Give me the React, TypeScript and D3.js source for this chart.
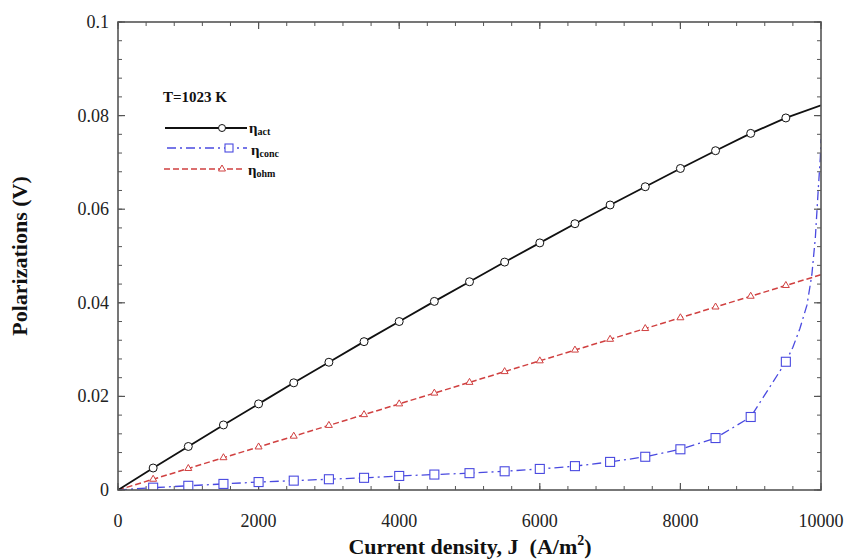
import React from "react";
import * as d3 from "d3";

const jMarkers = [500, 1000, 1500, 2000, 2500, 3000, 3500, 4000, 4500, 5000, 5500, 6000, 6500, 7000, 7500, 8000, 8500, 9000, 9500];

const actJ = [0, 500, 1000, 1500, 2000, 2500, 3000, 3500, 4000, 4500, 5000, 5500, 6000, 6500, 7000, 7500, 8000, 8500, 9000, 9500, 10000];
const actV = [0, 0.0047, 0.0093, 0.0139, 0.0184, 0.0229, 0.0273, 0.0317, 0.036, 0.0403, 0.0445, 0.0487, 0.0528, 0.0569, 0.0609, 0.0648, 0.0687, 0.0725, 0.0762, 0.0795, 0.0822];

const ohmJ = [0, 500, 1000, 1500, 2000, 2500, 3000, 3500, 4000, 4500, 5000, 5500, 6000, 6500, 7000, 7500, 8000, 8500, 9000, 9500, 10000];
const ohmV = [0, 0.0023, 0.0046, 0.0069, 0.0092, 0.0115, 0.0138, 0.0161, 0.0184, 0.0207, 0.023, 0.0253, 0.0276, 0.0299, 0.0322, 0.0345, 0.0368, 0.0391, 0.0414, 0.0437, 0.046];

const concJ = [0, 500, 1000, 1500, 2000, 2500, 3000, 3500, 4000, 4500, 5000, 5500, 6000, 6500, 7000, 7500, 8000, 8500, 9000, 9500, 9600, 9700, 9800, 9870, 9920, 9960, 9990, 10000];
const concV = [0, 0.0005, 0.0009, 0.0013, 0.0017, 0.002, 0.0023, 0.0026, 0.003, 0.0033, 0.0036, 0.004, 0.0045, 0.0051, 0.006, 0.0071, 0.0087, 0.0111, 0.0156, 0.0274, 0.0305, 0.0345, 0.0395, 0.046, 0.054, 0.064, 0.071, 0.075];

const xTicks = [0, 2000, 4000, 6000, 8000, 10000];
const xTickLabels = ["0", "2000", "4000", "6000", "8000", "10000"];
const yTicks = [0, 0.02, 0.04, 0.06, 0.08, 0.1];
const yTickLabels = ["0", "0.02", "0.04", "0.06", "0.08", "0.1"];

const W = 851, H = 560;
const L = 118, R = 821, T = 22, B = 490;

export default function App() {
  const x = d3.scaleLinear().domain([0, 10000]).range([L, R]);
  const y = d3.scaleLinear().domain([0, 0.1]).range([B, T]);
  const mk = (js: number[], vs: number[]) =>
    d3.line<number>().x((_, i) => x(js[i])).y((_, i) => y(vs[i]))(vs) || "";

  const xMinor = d3.range(0, 10001, 400);
  const yMinor = d3.range(0, 0.1001, 0.004);
  const serif = "'Liberation Serif', 'Times New Roman', serif";
  const frame = "#555";

  const idx = (js: number[], v: number) => js.indexOf(v);
  const tri = (cx: number, cy: number, s: number) =>
    `M${cx},${cy - s} L${cx + s * 0.87},${cy + s * 0.5} L${cx - s * 0.87},${cy + s * 0.5} Z`;

  const black = "#111";
  const blue = "#4a4ae0";
  const red = "#d04040";

  return (
    <svg width={W} height={H} style={{ position: "absolute", left: 0, top: 0, background: "#fff" }} fontFamily={serif}>
      <rect x={0} y={0} width={W} height={H} fill="#fff" />
      <defs>
        <clipPath id="plot">
          <rect x={L} y={T} width={R - L} height={B - T} />
        </clipPath>
      </defs>
      {xMinor.map((v) => (
        <g key={"xm" + v} stroke={frame} strokeWidth={1}>
          <line x1={x(v)} x2={x(v)} y1={B} y2={B - 4} />
          <line x1={x(v)} x2={x(v)} y1={T} y2={T + 4} />
        </g>
      ))}
      {yMinor.map((v) => (
        <g key={"ym" + v} stroke={frame} strokeWidth={1}>
          <line x1={L} x2={L + 4} y1={y(v)} y2={y(v)} />
          <line x1={R} x2={R - 4} y1={y(v)} y2={y(v)} />
        </g>
      ))}
      {xTicks.map((v) => (
        <g key={"xt" + v} stroke={frame} strokeWidth={1.2}>
          <line x1={x(v)} x2={x(v)} y1={B} y2={B - 7} />
          <line x1={x(v)} x2={x(v)} y1={T} y2={T + 7} />
        </g>
      ))}
      {yTicks.map((v) => (
        <g key={"yt" + v} stroke={frame} strokeWidth={1.2}>
          <line x1={L} x2={L + 7} y1={y(v)} y2={y(v)} />
          <line x1={R} x2={R - 7} y1={y(v)} y2={y(v)} />
        </g>
      ))}

      <g clipPath="url(#plot)">
        <path d={mk(ohmJ, ohmV)} fill="none" stroke={red} strokeWidth={1.5} strokeDasharray="6,3" />
        <path d={mk(concJ, concV)} fill="none" stroke={blue} strokeWidth={1.3} strokeDasharray="9,4,2,4" />
        <path d={mk(actJ, actV)} fill="none" stroke={black} strokeWidth={1.8} />
        {jMarkers.map((j) => (
          <circle key={"a" + j} cx={x(j)} cy={y(actV[idx(actJ, j)])} r={4} fill="#fff" stroke={black} strokeWidth={1} />
        ))}
        {jMarkers.map((j) => (
          <path key={"o" + j} d={tri(x(j), y(ohmV[idx(ohmJ, j)]), 4)} fill="#fff" stroke={red} strokeWidth={1} />
        ))}
        {jMarkers.map((j) => (
          <rect key={"c" + j} x={x(j) - 4.5} y={y(concV[idx(concJ, j)]) - 4.5} width={9} height={9} fill="#fff" stroke={blue} strokeWidth={1.1} />
        ))}
      </g>

      <rect x={L} y={T} width={R - L} height={B - T} fill="none" stroke={frame} strokeWidth={1.6} />

      {xTicks.map((v, i) => (
        <text key={"xl" + v} x={x(v)} y={527} textAnchor="middle" fontSize={18} fill="#222">
          {xTickLabels[i]}
        </text>
      ))}
      {yTicks.map((v, i) => (
        <text key={"yl" + v} x={109} y={y(v) + 6} textAnchor="end" fontSize={18} fill="#222">
          {yTickLabels[i]}
        </text>
      ))}

      <text x={470} y={554} textAnchor="middle" fontSize={22} fontWeight="bold" fill="#111">
        {"Current density, J\u00a0\u00a0(A/m"}<tspan dy={-9} fontSize={14}>2</tspan><tspan dy={9}>)</tspan>
      </text>
      <text transform={`translate(27,${256}) rotate(-90)`} textAnchor="middle" fontSize={22} fontWeight="bold" fill="#111">
        Polarizations (V)
      </text>

      <text x={163} y={102} fontSize={15} fontWeight="bold" fill="#111">T=1023 K</text>
      <line x1={165} x2={247} y1={128} y2={128} stroke={black} strokeWidth={1.8} />
      <circle cx={222} cy={128} r={3.5} fill="#fff" stroke={black} strokeWidth={1} />
      <text x={249} y={133} fontSize={15} fontWeight="bold" fill="#111">η<tspan fontSize={10} dy={2}>act</tspan></text>

      <line x1={167} x2={247} y1={148} y2={148} stroke={blue} strokeWidth={1.3} strokeDasharray="9,4,2,4" />
      <rect x={225} y={144} width={8} height={8} fill="#fff" stroke={blue} strokeWidth={1.1} />
      <text x={251} y={155} fontSize={15} fontWeight="bold" fill="#111">η<tspan fontSize={10} dy={2}>conc</tspan></text>

      <line x1={164} x2={245} y1={169} y2={169} stroke={red} strokeWidth={1.5} strokeDasharray="6,3" />
      <path d={tri(222, 169, 4)} fill="#fff" stroke={red} strokeWidth={1} />
      <text x={248} y={175} fontSize={15} fontWeight="bold" fill="#111">η<tspan fontSize={10} dy={2}>ohm</tspan></text>
    </svg>
  );
}
